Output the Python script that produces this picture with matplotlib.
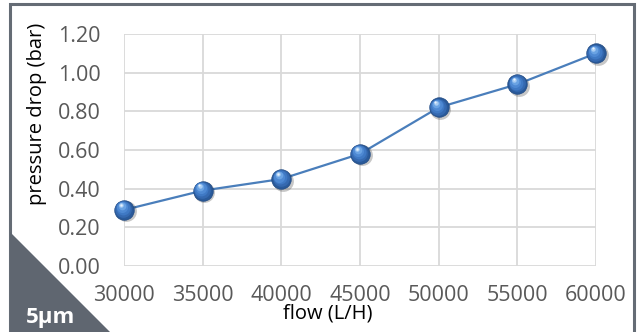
import matplotlib
matplotlib.use("Agg")
import matplotlib.pyplot as plt
import matplotlib.transforms as mtransforms
from matplotlib.patches import Rectangle, Polygon

flow = [30000, 35000, 40000, 45000, 50000, 55000, 60000]
pressure_drop = [0.29, 0.39, 0.45, 0.58, 0.82, 0.94, 1.10]
y_ticks = [0.0, 0.2, 0.4, 0.6, 0.8, 1.0, 1.2]
x_label = "flow (L/H)"
y_label = "pressure drop (bar)"
badge = "5µm"

plt.rcParams['font.family'] = ['Open Sans', 'DejaVu Sans']

W, H = 638, 332
fig = plt.figure(figsize=(W/100, H/100), dpi=100)
fig.patch.set_facecolor('white')

# outer frame
fig.patches.append(Rectangle((10/W, -0.05), (634-10)/W, (H-4)/H + 0.05, transform=fig.transFigure,
                             fill=False, edgecolor='#656c75', linewidth=2.2, zorder=0))

ax = fig.add_axes([124/W, (H-266)/H, (596-124)/W, (266-34)/H])
ax.set_xlim(30000, 60000)
ax.set_ylim(0, 1.2)
ax.set_xticks(flow)
ax.set_yticks(y_ticks)
ax.set_yticklabels([f"{v:.2f}" for v in y_ticks])
ax.set_xticklabels([str(v) for v in flow])
for s in ax.spines.values():
    s.set_visible(False)
ax.grid(True, color='#d9d9d9', linewidth=1.3)
ax.set_axisbelow(True)
ax.tick_params(length=0, labelsize=15.5, labelcolor='#595959', pad=14)
ax.tick_params(axis='y', pad=17)

ax.plot(flow, pressure_drop, color='#4a7ebb', linewidth=1.6, zorder=3, clip_on=False)

# sphere-like markers
shadow = mtransforms.offset_copy(ax.transData, fig=fig, x=1.5, y=-1.5, units='dots')
ax.scatter(flow, pressure_drop, s=15**2, color='#000000', alpha=0.22, transform=shadow,
           zorder=4, clip_on=False, linewidths=0)
ax.scatter(flow, pressure_drop, s=14**2, color='#2a5a9a', zorder=5, clip_on=False,
           edgecolors='#234d86', linewidths=0.6)
layers = [(12.0, '#3569b0', -0.6, 0.6), (10.0, '#3f79c4', -1.0, 1.2), (8.0, '#4e89d3', -1.4, 1.8),
          (5.5, '#6aa3e3', -1.8, 2.6), (3.2, '#a9cdf3', -2.2, 3.4), (1.6, '#e8f2fd', -2.4, 3.8)]
for sz, col, dx, dy in layers:
    tr = mtransforms.offset_copy(ax.transData, fig=fig, x=dx, y=dy, units='points')
    ax.scatter(flow, pressure_drop, s=sz**2, color=col, transform=tr, zorder=6, clip_on=False,
               linewidths=0)

fig.text(37/W, 1 - 114/H, y_label, rotation=90, ha='center', va='center', fontsize=14.5,
         color='#000000')
fig.text(328/W, 1 - 313/H, x_label, ha='center', va='center', fontsize=14.5, color='#000000')

# corner badge
fig.patches.append(Polygon([(10/W, 1 - 232/H), (10/W, 0), (110/W, 0)], closed=True,
                           transform=fig.transFigure, facecolor='#5f6670', edgecolor='none', zorder=1))
fig.text(50/W, 1 - 317/H, badge, ha='center', va='center', fontsize=16, fontweight='bold',
         color='white', zorder=2)

fig.savefig("out.png", dpi=100)
